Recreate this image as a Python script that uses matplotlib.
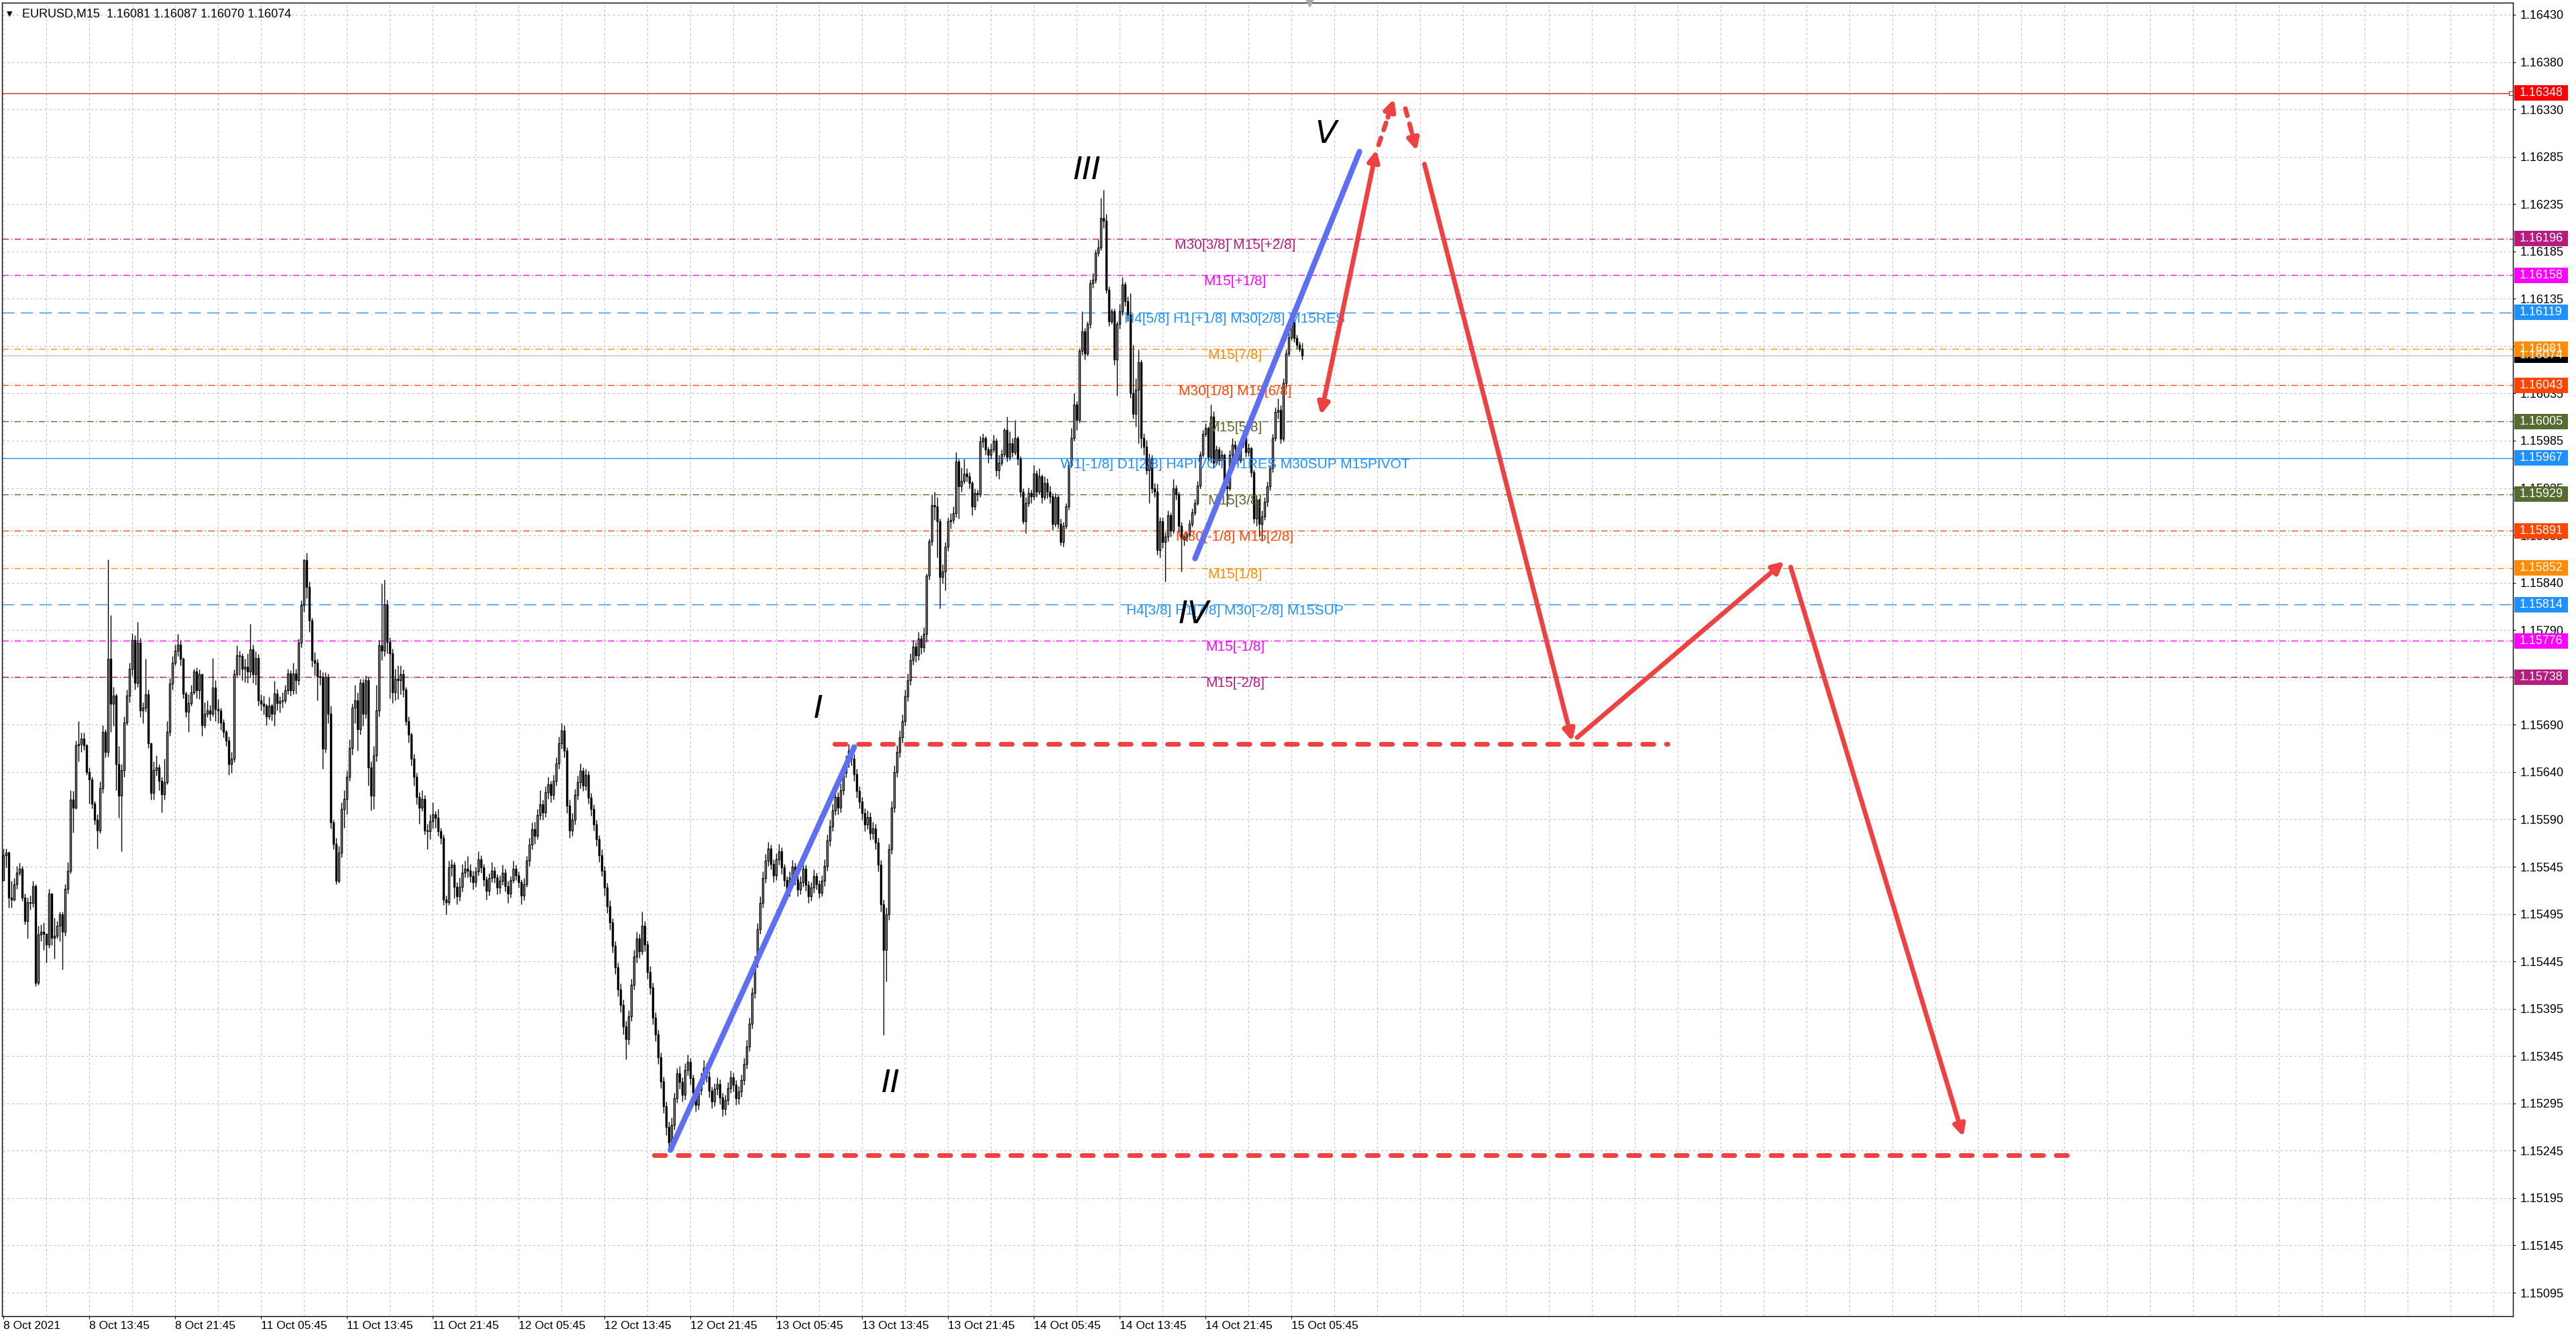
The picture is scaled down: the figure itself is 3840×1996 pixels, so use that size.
import numpy as np
import matplotlib
matplotlib.use("Agg")
import matplotlib.pyplot as plt
from matplotlib.patches import Rectangle
from matplotlib.transforms import blended_transform_factory

plt.rcParams['font.family'] = ['Liberation Sans', 'DejaVu Sans']
plt.rcParams['lines.scale_dashes'] = False

# EURUSD M15 candles, first bar 8 Oct 05:45. Values are pips above 1.15000.
BASE = 1.15
open0 = 52.6
close = [
    # bars 0-173
    55.2, 55.5, 50.8, 50.6, 52.2, 53.4, 53.8, 50.8, 48.3, 50.3,
    50.2, 52.0, 41.9, 46.9, 47.2, 47.0, 45.9, 51.2, 46.6, 46.8,
    47.8, 49.0, 47.2, 51.7, 53.6, 61.0, 60.2, 66.7, 66.8, 67.4,
    66.7, 63.9, 63.1, 60.6, 58.9, 57.8, 62.2, 68.1, 66.0, 75.7,
    71.0, 71.9, 64.7, 61.4, 64.1, 69.1, 71.9, 74.7, 77.7, 73.2,
    77.4, 70.3, 70.6, 72.0, 66.9, 61.7, 64.1, 64.4, 63.0, 61.6,
    62.8, 68.1, 73.1, 75.3, 76.6, 77.2, 75.7, 72.1, 70.2, 71.1,
    72.2, 74.4, 72.4, 74.1, 68.8, 70.0, 70.3, 70.0, 72.7, 70.5,
    70.3, 69.1, 68.1, 67.2, 64.7, 65.3, 74.1, 76.1, 76.0, 74.7,
    74.9, 74.4, 76.7, 74.1, 75.8, 71.4, 71.0, 70.8, 69.7, 70.8,
    70.0, 72.1, 71.1, 71.3, 71.4, 72.4, 74.2, 72.4, 74.2, 73.5,
    77.4, 81.3, 86.0, 83.2, 79.7, 75.6, 75.3, 73.9, 73.8, 66.3,
    73.8, 70.0, 58.6, 56.4, 52.5, 55.5, 60.0, 61.1, 63.4, 66.4,
    70.6, 71.4, 68.4, 73.2, 70.0, 73.5, 64.4, 61.4, 65.6, 70.3,
    77.1, 76.6, 81.4, 77.5, 76.3, 72.2, 73.6, 73.5, 74.1, 72.5,
    69.2, 67.8, 65.3, 63.4, 61.3, 60.2, 61.1, 57.8, 57.7, 58.8,
    59.5, 59.1, 57.7, 57.0, 50.6, 50.3, 53.9, 54.2, 51.9, 50.9,
    51.9, 53.4, 53.8, 53.6,
    # bars 174-323
    53.0, 52.4, 53.5, 54.8, 53.9, 52.7, 51.5, 52.8, 53.6, 52.9,
    51.8, 52.5, 53.4, 52.0, 51.2, 52.6, 53.8, 53.1, 52.4, 51.0,
    52.2, 54.6, 56.3, 57.9, 57.2, 59.4, 60.5, 59.7, 61.8, 62.6,
    61.5, 63.0, 64.8, 66.9, 68.2, 66.1, 60.4, 57.8, 58.9, 61.5,
    62.8, 64.0, 62.5, 63.6, 61.2, 60.0, 58.4, 56.9, 55.2, 53.6,
    51.8, 49.9, 48.2, 45.7, 43.5, 41.2, 39.6, 37.3, 36.0, 38.4,
    41.7, 44.6, 46.5, 45.2, 47.8, 45.9, 43.0, 41.4, 38.2, 36.5,
    34.1, 31.6, 29.0, 26.8, 25.2, 27.0, 29.8, 32.4, 31.5, 30.2,
    32.8, 33.6, 31.9, 30.4, 29.1, 30.7, 31.8, 33.0, 32.1, 30.6,
    29.5, 30.8, 31.3, 29.9, 28.7, 29.6, 30.9, 32.0, 31.2, 29.8,
    30.5, 31.7, 33.4, 35.2, 37.6, 40.8, 44.0, 47.5, 50.2, 52.8,
    54.6, 55.9, 54.3, 53.1, 54.8, 55.6, 53.9, 52.6, 51.4, 52.9,
    54.0, 52.7, 51.6, 52.4, 53.8, 52.1, 50.9, 51.8, 53.0, 52.2,
    51.3, 52.5, 54.1, 56.7, 58.2, 59.9, 61.3, 60.2, 62.0, 63.8,
    64.9, 66.1, 65.3, 63.7, 61.9, 60.8, 59.6, 58.4, 59.2, 57.5,
    # bars 324-343
    58.0, 56.5, 54.2, 50.1, 45.3, 49.0, 55.8, 60.2, 63.9, 66.0,
    67.5, 69.2, 71.8, 73.5, 75.6, 77.0, 76.1, 77.8, 76.9, 78.3,
    # bars 344-484
    84.4, 88.0, 91.8, 91.6, 90.1, 84.3, 84.8, 87.4, 90.1, 90.2,
    90.9, 96.3, 93.7, 94.3, 95.1, 94.8, 94.1, 91.6, 93.0, 92.9,
    98.4, 98.8, 97.6, 97.0, 97.6, 98.5, 95.4, 96.2, 97.1, 99.6,
    96.8, 98.2, 97.3, 98.8, 96.6, 93.2, 90.1, 92.0, 93.0, 92.7,
    95.1, 93.2, 94.8, 92.6, 94.1, 93.2, 92.7, 89.8, 92.6, 89.8,
    87.9, 89.6, 91.6, 96.0, 98.8, 102.3, 100.7, 107.9, 109.9, 107.6,
    110.7, 115.0, 115.3, 118.1, 118.7, 121.8, 121.5, 114.3, 111.0, 112.0,
    107.0, 110.7, 112.0, 114.8, 113.1, 111.7, 103.5, 101.3, 103.8, 106.7,
    98.8, 97.9, 95.4, 96.6, 93.5, 93.2, 87.1, 90.1, 87.9, 88.5,
    90.7, 89.1, 93.5, 92.9, 89.6, 88.2, 88.5, 88.7, 89.8, 91.0,
    92.0, 93.8, 97.0, 99.2, 99.8, 96.8, 101.0, 96.2, 97.6, 96.5,
    97.0, 93.8, 93.5, 97.0, 98.1, 97.7, 96.5, 98.1, 98.8, 97.3,
    97.7, 95.2, 90.4, 92.3, 89.8, 90.6, 92.1, 93.7, 95.6, 98.8,
    101.5, 101.7, 98.7, 104.5, 107.6, 109.3, 111.0, 109.2, 108.5, 108.1,
    107.4,
]
high = [
    55.9, 55.9, 55.6, 52.5, 52.8, 54.1, 54.4, 54.1, 51.2, 50.8,
    51.0, 52.5, 52.2, 47.8, 48.0, 48.2, 46.9, 51.7, 51.2, 48.7,
    48.3, 49.3, 49.3, 52.2, 54.5, 62.0, 61.9, 67.2, 69.2, 68.0,
    68.0, 66.8, 64.4, 63.4, 60.9, 59.5, 62.9, 68.8, 68.4, 86.1,
    80.3, 72.8, 72.1, 66.6, 64.7, 69.7, 72.5, 75.3, 78.4, 78.2,
    79.6, 77.9, 71.2, 75.7, 72.5, 67.0, 65.0, 65.6, 64.7, 63.4,
    65.3, 69.2, 73.7, 76.0, 77.2, 78.3, 77.7, 75.9, 72.3, 72.0,
    73.0, 74.7, 74.8, 74.6, 74.2, 71.2, 71.4, 70.9, 75.8, 73.5,
    71.5, 70.6, 69.4, 68.3, 67.6, 66.0, 74.6, 77.1, 76.6, 76.3,
    75.7, 76.3, 79.4, 77.2, 76.5, 76.2, 72.0, 71.9, 71.0, 71.7,
    71.0, 73.4, 72.6, 71.8, 72.2, 73.0, 74.7, 74.5, 75.3, 74.7,
    77.8, 81.8, 86.2, 86.8, 83.8, 80.0, 76.4, 75.7, 74.6, 74.3,
    74.3, 74.2, 70.8, 58.9, 57.0, 56.2, 60.7, 62.0, 64.0, 67.3,
    71.0, 73.0, 72.2, 73.6, 73.6, 74.0, 73.8, 65.0, 66.6, 73.0,
    77.7, 83.6, 84.0, 81.9, 78.0, 76.8, 74.7, 75.0, 75.0, 74.6,
    72.8, 69.7, 68.0, 65.8, 63.8, 61.8, 62.0, 61.5, 58.5, 59.5,
    60.7, 59.8, 60.0, 58.1, 57.4, 51.0, 54.6, 54.8, 54.5, 52.4,
    52.9, 54.3, 54.6, 55.1,
    54.3, 53.6, 54.0, 55.6, 55.2, 54.3, 53.0, 53.3, 54.5, 54.0,
    53.2, 53.1, 54.2, 53.8, 52.5, 53.0, 54.6, 54.2, 53.5, 52.7,
    52.8, 55.1, 57.0, 58.6, 58.7, 60.0, 62.0, 61.0, 62.4, 63.4,
    63.0, 63.6, 65.4, 67.6, 69.0, 68.8, 66.5, 61.0, 59.6, 62.1,
    63.5, 64.8, 64.4, 64.2, 64.0, 61.7, 60.5, 58.9, 57.3, 55.8,
    54.1, 52.3, 50.5, 48.6, 46.2, 44.0, 41.8, 40.1, 37.9, 39.0,
    42.3, 45.3, 47.2, 47.0, 49.3, 48.3, 46.3, 43.6, 41.9, 38.8,
    37.0, 34.6, 32.1, 29.5, 27.4, 27.8, 30.4, 33.0, 33.2, 32.0,
    33.5, 34.4, 34.0, 32.3, 30.9, 31.3, 32.5, 33.8, 33.5, 32.6,
    31.0, 31.4, 32.0, 31.8, 30.4, 30.2, 31.5, 32.7, 32.5, 31.7,
    31.1, 32.3, 34.0, 35.9, 38.2, 41.4, 44.7, 48.1, 50.9, 53.5,
    55.3, 56.6, 56.3, 54.8, 55.4, 56.4, 56.0, 54.3, 53.0, 53.5,
    54.7, 54.4, 53.1, 53.0, 54.5, 54.2, 52.5, 52.4, 53.7, 53.4,
    52.6, 53.1, 54.8, 57.4, 58.9, 60.6, 62.4, 61.8, 62.7, 64.5,
    65.6, 66.8, 66.6, 65.8, 64.2, 62.4, 61.3, 60.1, 59.9, 59.7,
    58.7, 58.5, 57.0, 54.7, 50.6, 49.7, 56.4, 60.9, 64.6, 66.7,
    68.2, 69.9, 72.5, 74.2, 76.3, 77.7, 77.5, 78.5, 78.2, 79.0,
    84.6, 88.3, 92.9, 93.2, 92.6, 90.4, 85.6, 87.9, 90.5, 90.9,
    91.6, 97.3, 96.6, 95.7, 96.6, 95.6, 95.2, 94.3, 93.5, 93.4,
    99.0, 99.3, 99.0, 97.9, 98.2, 99.1, 98.8, 97.0, 97.6, 99.8,
    101.0, 99.5, 98.8, 100.7, 99.0, 96.9, 93.5, 92.6, 93.6, 93.4,
    96.0, 95.4, 95.6, 95.0, 94.8, 94.6, 93.8, 93.0, 93.0, 92.8,
    90.4, 90.0, 92.0, 96.3, 99.8, 103.5, 102.6, 108.2, 112.0, 110.3,
    111.0, 115.3, 116.0, 118.5, 119.5, 123.9, 124.7, 122.2, 114.6, 112.3,
    112.3, 111.0, 112.8, 115.6, 115.1, 113.6, 113.9, 108.5, 105.0, 108.0,
    107.0, 99.3, 98.6, 97.2, 97.0, 94.1, 94.0, 90.5, 90.5, 89.0,
    91.2, 91.0, 94.5, 93.9, 93.2, 90.0, 88.8, 89.0, 90.2, 91.4,
    92.4, 94.3, 97.4, 99.6, 100.3, 100.0, 102.3, 101.6, 98.0, 97.9,
    97.5, 97.2, 95.0, 97.5, 98.8, 98.5, 97.9, 98.6, 99.5, 99.0,
    98.2, 97.9, 95.5, 92.8, 92.5, 91.2, 92.6, 94.2, 96.0, 99.2,
    102.0, 102.9, 102.2, 105.0, 108.0, 109.8, 111.5, 111.2, 109.6, 108.9,
    108.7,
]
low = [
    52.5, 53.9, 49.7, 49.7, 50.4, 51.7, 53.1, 50.4, 48.0, 46.5,
    49.5, 49.8, 41.5, 41.7, 46.2, 45.3, 44.0, 45.5, 45.8, 44.4,
    46.5, 46.2, 43.3, 46.8, 51.2, 53.3, 57.6, 60.0, 65.0, 66.0,
    66.2, 63.6, 60.6, 60.1, 58.4, 55.9, 57.5, 61.7, 65.4, 65.5,
    68.1, 68.7, 62.0, 59.1, 55.6, 63.4, 68.8, 71.2, 74.0, 72.5,
    72.8, 69.6, 69.0, 70.2, 66.4, 61.0, 61.0, 63.5, 62.0, 59.7,
    61.0, 62.6, 67.7, 72.5, 75.0, 76.0, 75.0, 71.6, 69.6, 68.1,
    70.8, 72.0, 71.6, 71.5, 67.7, 68.5, 69.6, 69.3, 69.7, 69.2,
    69.0, 68.3, 67.5, 66.6, 63.6, 63.8, 64.9, 73.9, 74.0, 73.5,
    73.3, 73.2, 73.8, 73.2, 73.0, 70.8, 70.3, 69.9, 68.8, 69.4,
    69.3, 68.7, 70.3, 70.1, 70.6, 71.1, 72.0, 71.9, 72.0, 72.1,
    73.0, 76.9, 80.6, 82.0, 78.5, 74.9, 74.0, 71.4, 73.0, 64.2,
    65.9, 69.0, 58.0, 55.8, 52.2, 52.3, 55.0, 58.1, 59.5, 63.0,
    65.7, 69.0, 66.1, 67.8, 68.7, 69.5, 62.5, 59.9, 60.0, 65.0,
    69.7, 75.6, 76.0, 76.3, 71.6, 71.1, 71.4, 71.5, 72.0, 71.7,
    68.8, 67.0, 64.6, 62.5, 60.5, 58.5, 59.8, 57.4, 55.8, 56.9,
    58.0, 58.1, 57.2, 56.4, 50.0, 49.0, 50.0, 53.0, 50.7, 50.1,
    50.4, 51.4, 52.9, 52.9,
    52.4, 51.6, 51.9, 53.1, 53.4, 52.0, 50.6, 51.0, 52.4, 52.3,
    51.1, 51.2, 52.1, 51.4, 50.2, 50.8, 52.3, 52.6, 51.8, 50.1,
    50.5, 51.9, 54.1, 55.8, 56.4, 56.9, 58.9, 58.9, 59.2, 61.1,
    60.7, 61.0, 62.5, 64.2, 66.3, 65.4, 59.6, 57.0, 57.2, 58.4,
    61.0, 62.2, 61.9, 62.0, 60.6, 59.3, 57.8, 56.2, 54.5, 53.0,
    51.0, 49.2, 47.4, 45.0, 42.8, 40.5, 38.8, 36.5, 33.9, 35.4,
    37.9, 41.2, 44.0, 44.5, 44.8, 45.2, 42.3, 40.7, 37.5, 35.8,
    33.4, 30.9, 28.3, 26.0, 24.2, 24.6, 26.5, 29.3, 30.8, 29.5,
    29.7, 32.2, 31.2, 29.7, 28.4, 28.6, 30.2, 31.3, 31.5, 29.9,
    28.8, 29.0, 30.2, 29.2, 27.9, 28.1, 29.1, 30.4, 30.5, 29.1,
    29.2, 30.0, 31.2, 32.9, 34.7, 37.1, 40.3, 43.5, 47.0, 49.7,
    52.3, 54.1, 53.7, 52.4, 52.6, 54.2, 53.2, 52.0, 50.6, 50.9,
    52.4, 52.1, 50.9, 51.1, 51.9, 51.5, 50.2, 50.4, 51.3, 51.6,
    50.7, 50.9, 52.0, 53.6, 56.2, 57.7, 59.4, 59.5, 59.7, 61.5,
    63.3, 64.4, 64.6, 63.0, 61.2, 60.1, 58.9, 57.7, 57.9, 56.8,
    56.9, 55.8, 53.5, 49.3, 36.4, 42.0, 48.5, 55.3, 59.7, 63.4,
    65.4, 67.0, 68.7, 71.3, 73.0, 75.1, 75.4, 75.6, 76.2, 76.4,
    77.5, 84.0, 87.6, 90.2, 86.3, 81.0, 83.6, 82.9, 87.0, 89.3,
    89.9, 90.5, 90.4, 93.2, 94.0, 94.2, 93.5, 90.7, 91.3, 92.2,
    92.6, 97.8, 97.0, 96.2, 96.6, 97.3, 94.8, 94.5, 95.9, 96.8,
    96.3, 96.5, 96.8, 97.0, 96.0, 92.6, 89.8, 88.8, 91.6, 92.0,
    92.3, 92.6, 92.9, 92.0, 92.3, 92.5, 92.0, 89.2, 89.5, 89.3,
    87.6, 87.4, 89.3, 91.3, 95.8, 98.5, 99.6, 100.4, 107.5, 107.0,
    107.4, 110.3, 114.5, 115.0, 117.8, 118.4, 120.7, 113.9, 110.5, 110.7,
    106.4, 103.2, 110.2, 111.6, 112.6, 111.0, 103.0, 100.8, 100.0, 98.2,
    97.7, 97.0, 95.0, 92.0, 93.0, 92.6, 86.6, 86.3, 87.3, 83.8,
    88.0, 88.5, 88.8, 92.3, 89.0, 84.8, 87.6, 88.0, 88.4, 89.5,
    90.7, 91.8, 93.5, 96.8, 98.9, 96.3, 96.2, 95.6, 96.0, 96.0,
    95.8, 93.2, 91.6, 93.3, 96.7, 97.0, 96.0, 96.2, 97.8, 96.8,
    96.9, 94.7, 89.9, 89.6, 88.5, 88.0, 90.2, 91.6, 93.3, 95.2,
    98.5, 100.8, 98.2, 98.4, 104.0, 107.3, 109.0, 108.8, 108.0, 107.8,
    107.0,
]

x_labels = ['8 Oct 2021', '8 Oct 13:45', '8 Oct 21:45', '11 Oct 05:45', '11 Oct 13:45',
            '11 Oct 21:45', '12 Oct 05:45', '12 Oct 13:45', '12 Oct 21:45', '13 Oct 05:45',
            '13 Oct 13:45', '13 Oct 21:45', '14 Oct 05:45', '14 Oct 13:45', '14 Oct 21:45',
            '15 Oct 05:45']
y_labels = ['1.16430', '1.16380', '1.16330', '1.16285', '1.16235', '1.16185', '1.16135',
            '1.16085', '1.16035', '1.15985', '1.15935', '1.15885', '1.15840', '1.15790',
            '1.15740', '1.15690', '1.15640', '1.15590', '1.15545', '1.15495', '1.15445',
            '1.15395', '1.15345', '1.15295', '1.15245', '1.15195', '1.15145', '1.15095']

# Murrey-math style levels
levels = [1.16196, 1.16158, 1.16119, 1.16081, 1.16043, 1.16005, 1.15967,
          1.15929, 1.15891, 1.15852, 1.15814, 1.15776, 1.15738]
level_names = ['M30[3/8] M15[+2/8]', 'M15[+1/8]', 'H4[5/8] H1[+1/8] M30[2/8] M15RES',
               'M15[7/8]', 'M30[1/8] M15[6/8]', 'M15[5/8]',
               'W1[-1/8] D1[2/8] H4PIVOT H1RES M30SUP M15PIVOT', 'M15[3/8]',
               'M30[-1/8] M15[2/8]', 'M15[1/8]', 'H4[3/8] H1[7/8] M30[-2/8] M15SUP',
               'M15[-1/8]', 'M15[-2/8]']
level_colors = ['#b51c7e', '#ff00ff', '#1e90ff', '#ff8c00', '#ff4500', '#556b2f', '#1e90ff',
                '#556b2f', '#ff4500', '#ff8c00', '#1e90ff', '#ff00ff', '#b51c7e']
level_kinds = ['dashdot', 'dashdot', 'long', 'dashdot', 'dashdot', 'dashdot', 'solid',
               'dashdot', 'dashdot', 'dashdot', 'long', 'dashdot', 'dashdot']
red_level = 1.16348
bid = 1.16074

# hand-drawn wave markup (bar index, price)
blue_waves = [[(248.6, 1.15244), (317.1, 1.15665)], [(444.1, 1.15862), (505.4, 1.16287)]]
red_dashed_levels = [(309.8, 620.2, 1.15668), (242.4, 773.3, 1.15239)]
red_arrows = [((529.6, 1.16274), (584.7, 1.15671)),
              ((586.5, 1.15675), (663.7, 1.15859)),
              ((666.1, 1.15853), (730.4, 1.15258))]
red_double = ((491.0, 1.16012), (511.7, 1.16289))
red_dashed_arrows = [((512.5, 1.16294), (518.3, 1.16342)),
                     ((522.5, 1.16332), (526.7, 1.16288))]
wave_names = ['I', 'II', 'III', 'IV', 'V']
wave_x = [303.7, 330.6, 404.0, 443.8, 493.0]
wave_y = [1.15704, 1.15313, 1.16267, 1.15803, 1.16305]

W, H = 3840, 1996
YMIN, YMAX = 1.150705, 1.164426
RED = '#ee4141'
BLUE = '#5f6ff2'

c = BASE + np.array(close) / 10000
o = np.r_[BASE + open0 / 10000, c[:-1]]
h = np.maximum(BASE + np.array(high) / 10000, np.maximum(o, c))
l = np.minimum(BASE + np.array(low) / 10000, np.minimum(o, c))
x = np.arange(len(c))

fig = plt.figure(figsize=(W / 100, H / 100), dpi=100)
ax = fig.add_axes([3 / W, 34 / H, 3743 / W, 1958 / H])
ax.set_xlim(-0.5, 935.25)
ax.set_ylim(YMIN, YMAX)

# grid
grid_kw = dict(color='#c4c4c4', lw=0.8, dashes=(2.5, 2.5))
major_x = np.arange(0, 481, 32)
minor_x = [m for m in range(0, 936, 16) if m not in major_x]
ax.set_xticks(major_x)
ax.set_xticklabels(x_labels, ha='left')
ax.set_xticks(minor_x, minor=True)
ypos = np.linspace(1.16430, 1.15095, len(y_labels))
ax.set_yticks(ypos)
ax.set_yticklabels(y_labels)
ax.yaxis.tick_right()
for gx in list(major_x) + minor_x:
    ax.axvline(gx, zorder=0.5, **grid_kw)
for gy in ypos:
    ax.axhline(gy, zorder=0.5, **grid_kw)
ax.tick_params(axis='x', which='major', length=3, width=0.8, pad=2, labelsize=12.5)
ax.tick_params(axis='x', which='minor', length=0)
ax.tick_params(axis='y', length=3, width=0.8, pad=5, labelsize=13)
for sp in ax.spines.values():
    sp.set_linewidth(1.0)

# levels
styles = {'dashdot': (0, (7, 2.5, 1, 2.5)), 'long': (0, (13, 7)), 'solid': '-'}
for p, col, kind in zip(levels, level_colors, level_kinds):
    ax.axhline(p, color=col, lw=1.0, ls=styles[kind], zorder=1)
ax.axhline(red_level, color='#c62828', lw=1.0, zorder=1)
ax.plot([934.5], [red_level], marker='s', ms=4, mfc='white', mec='#c62828', mew=0.8,
        clip_on=False, zorder=2)
ax.axhline(bid, color='#c0c0c0', lw=1.0, zorder=1)

# candles
ax.vlines(x, l, h, color='black', lw=1.0, zorder=3)
up = c >= o
ax.bar(x[up], (c - o)[up], bottom=o[up], width=0.68, facecolor='white',
       edgecolor='black', lw=1.0, zorder=4)
ax.bar(x[~up], (o - c)[~up], bottom=c[~up], width=0.68, facecolor='black',
       edgecolor='black', lw=1.0, zorder=4)

# level captions
for p, name, col in zip(levels, level_names, level_colors):
    ax.text(459, p, name, color=col, fontsize=15, ha='center', va='top', zorder=5)

# price tags on the right axis
ytr = ax.get_yaxis_transform()
half = 11.5 * (YMAX - YMIN) / 1958
def xa(px):
    return (px - 3) / 3743
tags = [(bid, '#000000')] + [(red_level, '#ff0000')] + list(zip(levels, level_colors))
for p, col in tags:
    ax.add_patch(Rectangle((xa(3748), p - half), 80 / 3743, 2 * half, transform=ytr,
                           facecolor=col, edgecolor='none', clip_on=False, zorder=6))
    ax.text(xa(3756), p, f'{p:.5f}', transform=ytr, color='white', fontsize=13,
            ha='left', va='center', clip_on=False, zorder=7)

# wave markup
for seg in blue_waves:
    ax.plot([seg[0][0], seg[1][0]], [seg[0][1], seg[1][1]], color=BLUE, lw=6,
            solid_capstyle='round', zorder=8)
for x0, x1, p in red_dashed_levels:
    ax.plot([x0, x1], [p, p], color=RED, lw=5, dashes=(12, 13.5),
            dash_capstyle='round', zorder=8)
head = 'head_length=1.0,head_width=0.5'
for start, tip in red_arrows:
    ax.annotate('', xy=tip, xytext=start, zorder=8,
                arrowprops=dict(arrowstyle='-|>,' + head, color=RED, lw=5,
                                mutation_scale=10, shrinkA=0, shrinkB=0, capstyle='round'))
ax.annotate('', xy=red_double[1], xytext=red_double[0], zorder=8,
            arrowprops=dict(arrowstyle='<|-|>,' + head, color=RED, lw=5,
                            mutation_scale=10, shrinkA=0, shrinkB=0))
for start, tip in red_dashed_arrows:
    mid = (start[0] + 0.6 * (tip[0] - start[0]), start[1] + 0.6 * (tip[1] - start[1]))
    ax.plot([start[0], mid[0]], [start[1], mid[1]], color=RED, lw=5, dashes=(8, 9),
            dash_capstyle='round', zorder=8)
    ax.annotate('', xy=tip, xytext=mid, zorder=8,
                arrowprops=dict(arrowstyle='-|>,' + head, color=RED, lw=5,
                                mutation_scale=10, shrinkA=0, shrinkB=0))
for name, wx, wy in zip(wave_names, wave_x, wave_y):
    ax.text(wx, wy, name, fontsize=34, style='italic', family='DejaVu Sans',
            ha='center', va='center', color='black', zorder=9)

# chart shift marker and header
ax.plot([486.75], [1.0], transform=blended_transform_factory(ax.transData, ax.transAxes),
        marker='v', ms=8, color='#a8a8a8', clip_on=False, zorder=9)
fig.text(10 / W, 1 - 21 / H, '\u25bc', fontsize=8, family='DejaVu Sans', va='center')
fig.text(33 / W, 1 - 21 / H, 'EURUSD,M15  1.16081 1.16087 1.16070 1.16074',
         fontsize=13, va='center', ha='left')

fig.savefig('out.png', dpi=100, facecolor='white')
